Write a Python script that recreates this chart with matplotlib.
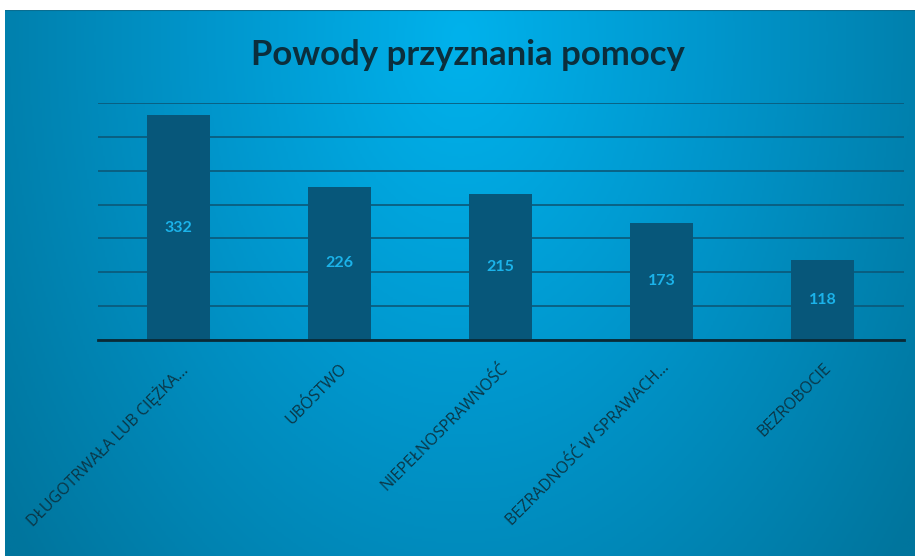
import numpy as np
import matplotlib
matplotlib.use("Agg")
import matplotlib.pyplot as plt
from matplotlib.colors import LinearSegmentedColormap

categories = ["DŁUGOTRWAŁA LUB CIĘŻKA…", "UBÓSTWO", "NIEPEŁNOSPRAWNOŚĆ",
              "BEZRADNOŚĆ W SPRAWACH…", "BEZROBOCIE"]
values = [332, 226, 215, 173, 118]
yticks = [0, 50, 100, 150, 200, 250, 300, 350]

W, H = 915, 556
fig = plt.figure(figsize=(W / 100, H / 100), dpi=100)
fig.patch.set_facecolor("white")

# background gradient panel
bg = fig.add_axes([5 / W, 0, 910 / W, 546 / H])
bg.set_axis_off()
ny, nx = 300, 500
yy, xx = np.mgrid[0:ny, 0:nx]
cx, cy = nx * 0.5, ny * 0.05
d = np.sqrt(((xx - cx) / (nx * 0.62)) ** 2 + ((yy - cy) / (ny * 1.5)) ** 2)
d = np.clip(d, 0, 1)
cmap = LinearSegmentedColormap.from_list(
    "bg", [(0, "#00b2ec"), (0.45, "#0096cc"), (1, "#00759d")])
bg.imshow(d, cmap=cmap, aspect="auto", extent=[0, 1, 0, 1], origin="upper",
          vmin=0, vmax=1)
bg.set_xlim(0, 1)
bg.set_ylim(0, 1)
bg.axhline(1, color="#0a6d90", lw=1.5)

ax = fig.add_axes([97.5 / W, 216 / H, 806 / W, 237 / H])
ax.patch.set_alpha(0)
x = np.arange(len(categories))
bars = ax.bar(x, values, width=0.39, color="#07577a", zorder=3)
ax.set_xlim(-0.5, len(categories) - 0.5)
ax.set_ylim(0, 350)
ax.set_yticks(yticks)
ax.yaxis.grid(True, color="#0b5878", lw=1.2, zorder=1)
ax.set_axisbelow(True)
ax.tick_params(axis="y", left=False, labelleft=False)
ax.tick_params(axis="x", bottom=False, pad=11)
for s in ["top", "right", "left"]:
    ax.spines[s].set_visible(False)
ax.spines["bottom"].set_color("#0a2a36")
ax.spines["bottom"].set_linewidth(2)
ax.spines["bottom"].set_zorder(4)

ax.set_xticks(x)
ax.set_xticklabels(categories, rotation=45, ha="right", rotation_mode="anchor",
                   fontsize=11.5, color="#0b3646", family=["Open Sans", "DejaVu Sans"])

for xi, v in zip(x, values):
    ax.text(xi, v / 2, str(v), ha="center", va="center", color="#1bb3ea",
            fontsize=11.5, fontweight="bold", family=["Lato", "DejaVu Sans"], zorder=5)

fig.text(468 / W, 1 - 55 / H, "Powody przyznania pomocy", ha="center", va="center",
         fontsize=25, fontweight="bold", color="#0b2e3c", family=["Lato", "DejaVu Sans"])

fig.savefig("out.png", dpi=100, facecolor=fig.get_facecolor())
